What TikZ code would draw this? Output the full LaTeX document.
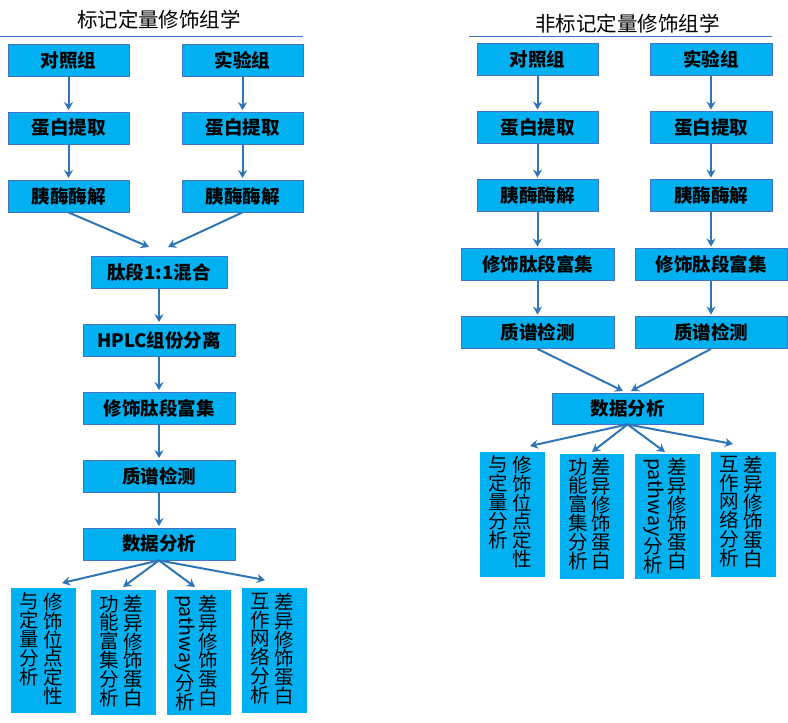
\documentclass[tikz,border=0pt]{standalone}
\usepackage{fontspec}
\setmainfont{Noto Sans CJK SC}
\usetikzlibrary{arrows.meta}
\definecolor{boxfill}{HTML}{00B0F0}
\definecolor{boxline}{HTML}{4472C4}
\definecolor{arrowblue}{HTML}{2E75B6}
\tikzset{>={Stealth[length=8pt,width=9pt]}}
\tikzset{
  stepbox/.style={draw=boxline, fill=boxfill, line width=0.8pt, inner sep=0pt, minimum height=32pt, font=\bfseries\fontsize{18.5}{20}\selectfont},
  leafbox/.style={fill=boxfill, inner sep=0pt, minimum width=65pt, minimum height=125pt},
  vcol/.style={inner sep=0pt, align=center, font=\fontsize{19.5}{18.8}\selectfont},
  flow/.style={->, color=arrowblue, line width=2pt},
  title/.style={font=\fontsize{20.5}{22}\selectfont}
}

\begin{document}
\begin{tikzpicture}[x=1pt,y=-1pt]
    \useasboundingbox (0,0) rectangle (788,723);
    % labelled
    \node[title] (titleA) at (159,20) {标记定量修饰组学};
    \draw[boxline, line width=0.8pt] (0,36) -- (303,36);
    \node[stepbox, minimum width=121pt] (ctlA) at (68.5,60) {对照组};
    \node[stepbox, minimum width=121pt] (expA) at (242.5,60) {实验组};
    \node[stepbox, minimum width=121pt] (extA1) at (68.5,128) {蛋白提取};
    \node[stepbox, minimum width=121pt] (extA2) at (242.5,128) {蛋白提取};
    \node[stepbox, minimum width=121pt] (digA1) at (68.5,196) {胰酶酶解};
    \node[stepbox, minimum width=121pt] (digA2) at (242.5,196) {胰酶酶解};
    \node[stepbox, minimum width=136pt] (mixA) at (159,272) {肽段1:1混合};
    \node[stepbox, minimum width=152pt] (hplcA) at (159,340) {HPLC组份分离};
    \node[stepbox, minimum width=152pt] (enrA) at (159,408) {修饰肽段富集};
    \node[stepbox, minimum width=152pt] (msA) at (159,476) {质谱检测};
    \node[stepbox, minimum width=152pt] (dataA) at (159,544) {数据分析};
    \foreach \a/\b in {ctlA/extA1, extA1/digA1, expA/extA2, extA2/digA2, mixA/hplcA, hplcA/enrA, enrA/msA, msA/dataA}
        \draw[flow, shorten >=1.5pt] (\a.south) -- (\b.north);
    \coordinate (mA1) at (149,247);
    \coordinate (mA2) at (168,247);
    \draw[flow] (digA1.south) -- (mA1);
    \draw[flow] (digA2.south) -- (mA2);
    \node[leafbox] (leafA1) at (43.5,650.5) {};
    \node[leafbox] (leafA2) at (123.5,652.5) {};
    \node[leafbox, minimum width=64pt] (leafA3) at (199,652.5) {};
    \node[leafbox] (leafA4) at (274.5,650.5) {};
    \foreach \i/\x/\y in {1/62/583, 2/123/587, 3/195/587, 4/265/580} {
        \coordinate (tA\i) at (\x,\y);
        \draw[flow] (dataA.south) -- (tA\i);
    }
    \node[vcol, anchor=north] at ([xshift=9.5pt,yshift=-5pt]leafA1.north) {修\\饰\\位\\点\\定\\性};
    \node[vcol, anchor=north] at ([xshift=-14pt,yshift=-5pt]leafA1.north) {与\\定\\量\\分\\析};
    \node[vcol, anchor=north] at ([xshift=9.5pt,yshift=-5pt]leafA2.north) {差\\异\\修\\饰\\蛋\\白};
    \node[vcol, anchor=north] at ([xshift=-14pt,yshift=-5pt]leafA2.north) {功\\能\\富\\集\\分\\析};
    \node[vcol, anchor=north] at ([xshift=9.5pt,yshift=-5pt]leafA3.north) {差\\异\\修\\饰\\蛋\\白};
    \node[vcol, rotate=-90, anchor=west] (pwA) at ([xshift=-14pt,yshift=-5pt]leafA3.north) {pathway};
    \node[vcol, anchor=north] at ([yshift=-1pt]pwA.east) {分\\析};
    \node[vcol, anchor=north] at ([xshift=9.5pt,yshift=-5pt]leafA4.north) {差\\异\\修\\饰\\蛋\\白};
    \node[vcol, anchor=north] at ([xshift=-14pt,yshift=-5pt]leafA4.north) {互\\作\\网\\络\\分\\析};

    % label free
    \node[title] (titleB) at (627.5,24) {非标记定量修饰组学};
    \draw[boxline, line width=0.8pt] (469,36) -- (772,36);
    \node[stepbox, minimum width=121pt] (ctlB) at (537.5,59) {对照组};
    \node[stepbox, minimum width=122pt] (expB) at (711,59) {实验组};
    \node[stepbox, minimum width=121pt] (extB1) at (537.5,127.5) {蛋白提取};
    \node[stepbox, minimum width=122pt] (extB2) at (711,127.5) {蛋白提取};
    \node[stepbox, minimum width=121pt] (digB1) at (537.5,195.5) {胰酶酶解};
    \node[stepbox, minimum width=122pt] (digB2) at (711,195.5) {胰酶酶解};
    \node[stepbox, minimum width=153pt] (enrB1) at (537.5,264.5) {修饰肽段富集};
    \node[stepbox, minimum width=152pt] (enrB2) at (711,264.5) {修饰肽段富集};
    \node[stepbox, minimum width=153pt] (msB1) at (537.5,332.5) {质谱检测};
    \node[stepbox, minimum width=152pt] (msB2) at (711,332.5) {质谱检测};
    \node[stepbox, minimum width=151pt, minimum height=31pt] (dataB) at (627.5,408.5) {数据分析};
    \foreach \a/\b in {ctlB/extB1, extB1/digB1, digB1/enrB1, enrB1/msB1, expB/extB2, extB2/digB2, digB2/enrB2, enrB2/msB2}
        \draw[flow, shorten >=1.5pt] (\a.south) -- (\b.north);
    \coordinate (mB1) at (623,391);
    \coordinate (mB2) at (631,391);
    \draw[flow] (msB1.south) -- (mB1);
    \draw[flow] (msB2.south) -- (mB2);
    \node[leafbox] (leafB1) at (512.5,514.5) {};
    \node[leafbox, minimum width=64pt] (leafB2) at (592,516.5) {};
    \node[leafbox] (leafB3) at (667.5,516.5) {};
    \node[leafbox] (leafB4) at (743.5,514.5) {};
    \foreach \i/\x/\y in {1/530/446, 2/592/452, 3/665/452, 4/733/444} {
        \coordinate (tB\i) at (\x,\y);
        \draw[flow] (dataB.south) -- (tB\i);
    }
    \node[vcol, anchor=north] at ([xshift=9.5pt,yshift=-4pt]leafB1.north) {修\\饰\\位\\点\\定\\性};
    \node[vcol, anchor=north] at ([xshift=-14pt,yshift=-4pt]leafB1.north) {与\\定\\量\\分\\析};
    \node[vcol, anchor=north] at ([xshift=9.5pt,yshift=-4pt]leafB2.north) {差\\异\\修\\饰\\蛋\\白};
    \node[vcol, anchor=north] at ([xshift=-14pt,yshift=-4pt]leafB2.north) {功\\能\\富\\集\\分\\析};
    \node[vcol, anchor=north] at ([xshift=9.5pt,yshift=-4pt]leafB3.north) {差\\异\\修\\饰\\蛋\\白};
    \node[vcol, rotate=-90, anchor=west] (pwB) at ([xshift=-14pt,yshift=-4pt]leafB3.north) {pathway};
    \node[vcol, anchor=north] at ([yshift=-1pt]pwB.east) {分\\析};
    \node[vcol, anchor=north] at ([xshift=9.5pt,yshift=-4pt]leafB4.north) {差\\异\\修\\饰\\蛋\\白};
    \node[vcol, anchor=north] at ([xshift=-14pt,yshift=-4pt]leafB4.north) {互\\作\\网\\络\\分\\析};
\end{tikzpicture}
\end{document}
